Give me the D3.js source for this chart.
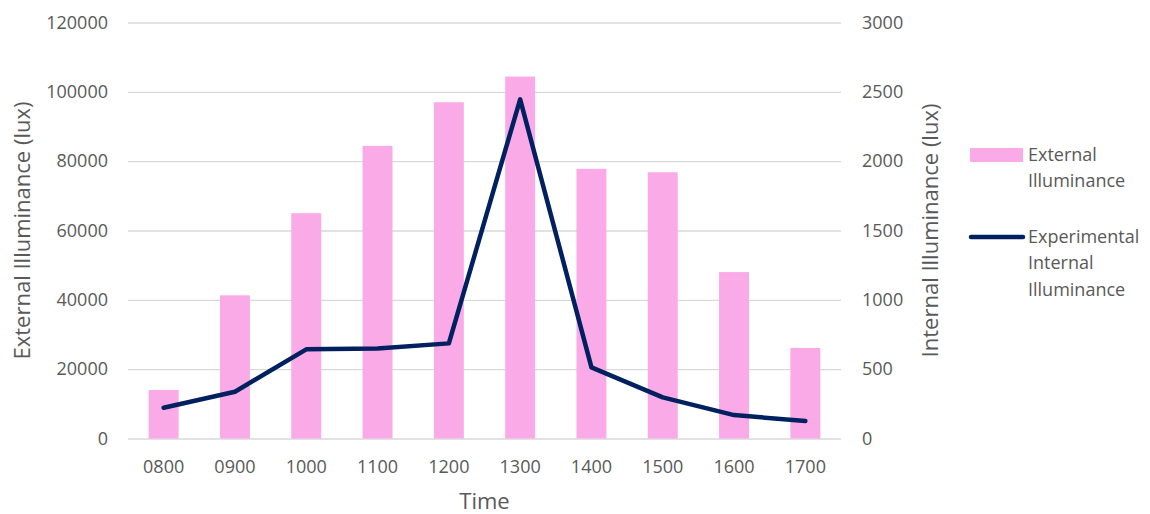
<!DOCTYPE html>
<html>
<head>
<meta charset="utf-8">
<script src="https://d3js.org/d3.v7.min.js"></script>
<style>
  html, body { margin: 0; padding: 0; background: #fff; }
  svg { display: block; font-family: "Open Sans", sans-serif; }
</style>
</head>
<body>
<svg id="chart" width="1150" height="514"></svg>
<script>
// Hourly readings
const times = ["0800", "0900", "1000", "1100", "1200", "1300", "1400", "1500", "1600", "1700"];
const externalLux = [14000, 41300, 65000, 84400, 97000, 104400, 77800, 76800, 48000, 26100];
const internalLux = [222, 337, 643, 649, 686, 2446, 513, 297, 169, 126];
const leftTicks = [0, 20000, 40000, 60000, 80000, 100000, 120000];
const rightTicks = [0, 500, 1000, 1500, 2000, 2500, 3000];

const textColor = "#595959";
const barColor = "#F9AAE7";
const lineColor = "#002060";
const gridColor = "#D9D9D9";

const svg = d3.select("#chart");
const plot = { left: 128, right: 841, top: 22.5, bottom: 438.5 };

const x = d3.scaleBand()
  .domain(times)
  .range([plot.left, plot.right])
  .paddingInner(0.58)
  .paddingOuter(0.29);

const yLeft = d3.scaleLinear().domain([0, 120000]).range([plot.bottom, plot.top]);
const yRight = d3.scaleLinear().domain([0, 3000]).range([plot.bottom, plot.top]);

// Left axis with gridlines spanning the plot
const gLeft = svg.append("g")
  .attr("transform", `translate(${plot.left},0)`)
  .call(d3.axisLeft(yLeft)
    .tickValues(leftTicks)
    .tickFormat(d3.format("d"))
    .tickSize(-(plot.right - plot.left))
    .tickPadding(20));
gLeft.select(".domain").remove();
gLeft.selectAll(".tick line").attr("stroke", gridColor).attr("stroke-width", 1.3);
gLeft.selectAll(".tick text")
  .attr("fill", textColor)
  .style("font-size", "18px")
  .style("font-family", "'Open Sans', sans-serif");

// Right axis
const gRight = svg.append("g")
  .attr("transform", `translate(${plot.right},0)`)
  .call(d3.axisRight(yRight)
    .tickValues(rightTicks)
    .tickFormat(d3.format("d"))
    .tickSize(0)
    .tickPadding(21));
gRight.select(".domain").remove();
gRight.selectAll(".tick text")
  .attr("fill", textColor)
  .style("font-size", "18px")
  .style("font-family", "'Open Sans', sans-serif");

// Bars: external illuminance
svg.append("g")
  .selectAll("rect")
  .data(times)
  .join("rect")
  .attr("x", d => x(d))
  .attr("width", x.bandwidth())
  .attr("y", (d, i) => yLeft(externalLux[i]))
  .attr("height", (d, i) => yLeft(0) - yLeft(externalLux[i]))
  .attr("fill", barColor);

// Bottom axis labels
const gBottom = svg.append("g")
  .attr("transform", `translate(0,${plot.bottom})`)
  .call(d3.axisBottom(x).tickSize(0).tickPadding(22));
gBottom.select(".domain").remove();
gBottom.selectAll(".tick text")
  .attr("fill", textColor)
  .style("font-size", "18px")
  .style("font-family", "'Open Sans', sans-serif");

// Line: experimental internal illuminance
const line = d3.line()
  .x((d, i) => x(times[i]) + x.bandwidth() / 2)
  .y(d => yRight(d));
svg.append("path")
  .datum(internalLux)
  .attr("d", line)
  .attr("fill", "none")
  .attr("stroke", lineColor)
  .attr("stroke-width", 4.5)
  .attr("stroke-linejoin", "round")
  .attr("stroke-linecap", "round");

// Axis titles
svg.append("text")
  .attr("transform", `translate(30,${(plot.top + plot.bottom) / 2}) rotate(-90)`)
  .attr("text-anchor", "middle")
  .attr("fill", textColor)
  .style("font-size", "22px")
  .text("External Illuminance (lux)");

svg.append("text")
  .attr("transform", `translate(938,${(plot.top + plot.bottom) / 2}) rotate(-90)`)
  .attr("text-anchor", "middle")
  .attr("fill", textColor)
  .style("font-size", "22px")
  .text("Internal Illuminance (lux)");

svg.append("text")
  .attr("x", (plot.left + plot.right) / 2)
  .attr("y", 509)
  .attr("text-anchor", "middle")
  .attr("fill", textColor)
  .style("font-size", "22px")
  .text("Time");

// Legend
const legend = svg.append("g");
legend.append("rect")
  .attr("x", 970).attr("y", 148).attr("width", 53).attr("height", 14)
  .attr("fill", barColor);
legend.append("text")
  .attr("x", 1028).attr("y", 161)
  .attr("fill", textColor)
  .style("font-size", "18px")
  .selectAll("tspan")
  .data(["External", "Illuminance"])
  .join("tspan")
  .attr("x", 1028)
  .attr("dy", (d, i) => i === 0 ? 0 : 26)
  .text(d => d);

legend.append("line")
  .attr("x1", 971).attr("x2", 1023).attr("y1", 237).attr("y2", 237)
  .attr("stroke", lineColor).attr("stroke-width", 4.5)
  .attr("stroke-linecap", "round");
legend.append("text")
  .attr("x", 1028).attr("y", 243)
  .attr("fill", textColor)
  .style("font-size", "18px")
  .selectAll("tspan")
  .data(["Experimental", "Internal", "Illuminance"])
  .join("tspan")
  .attr("x", 1028)
  .attr("dy", (d, i) => i === 0 ? 0 : 26.3)
  .text(d => d);
</script>
</body>
</html>
